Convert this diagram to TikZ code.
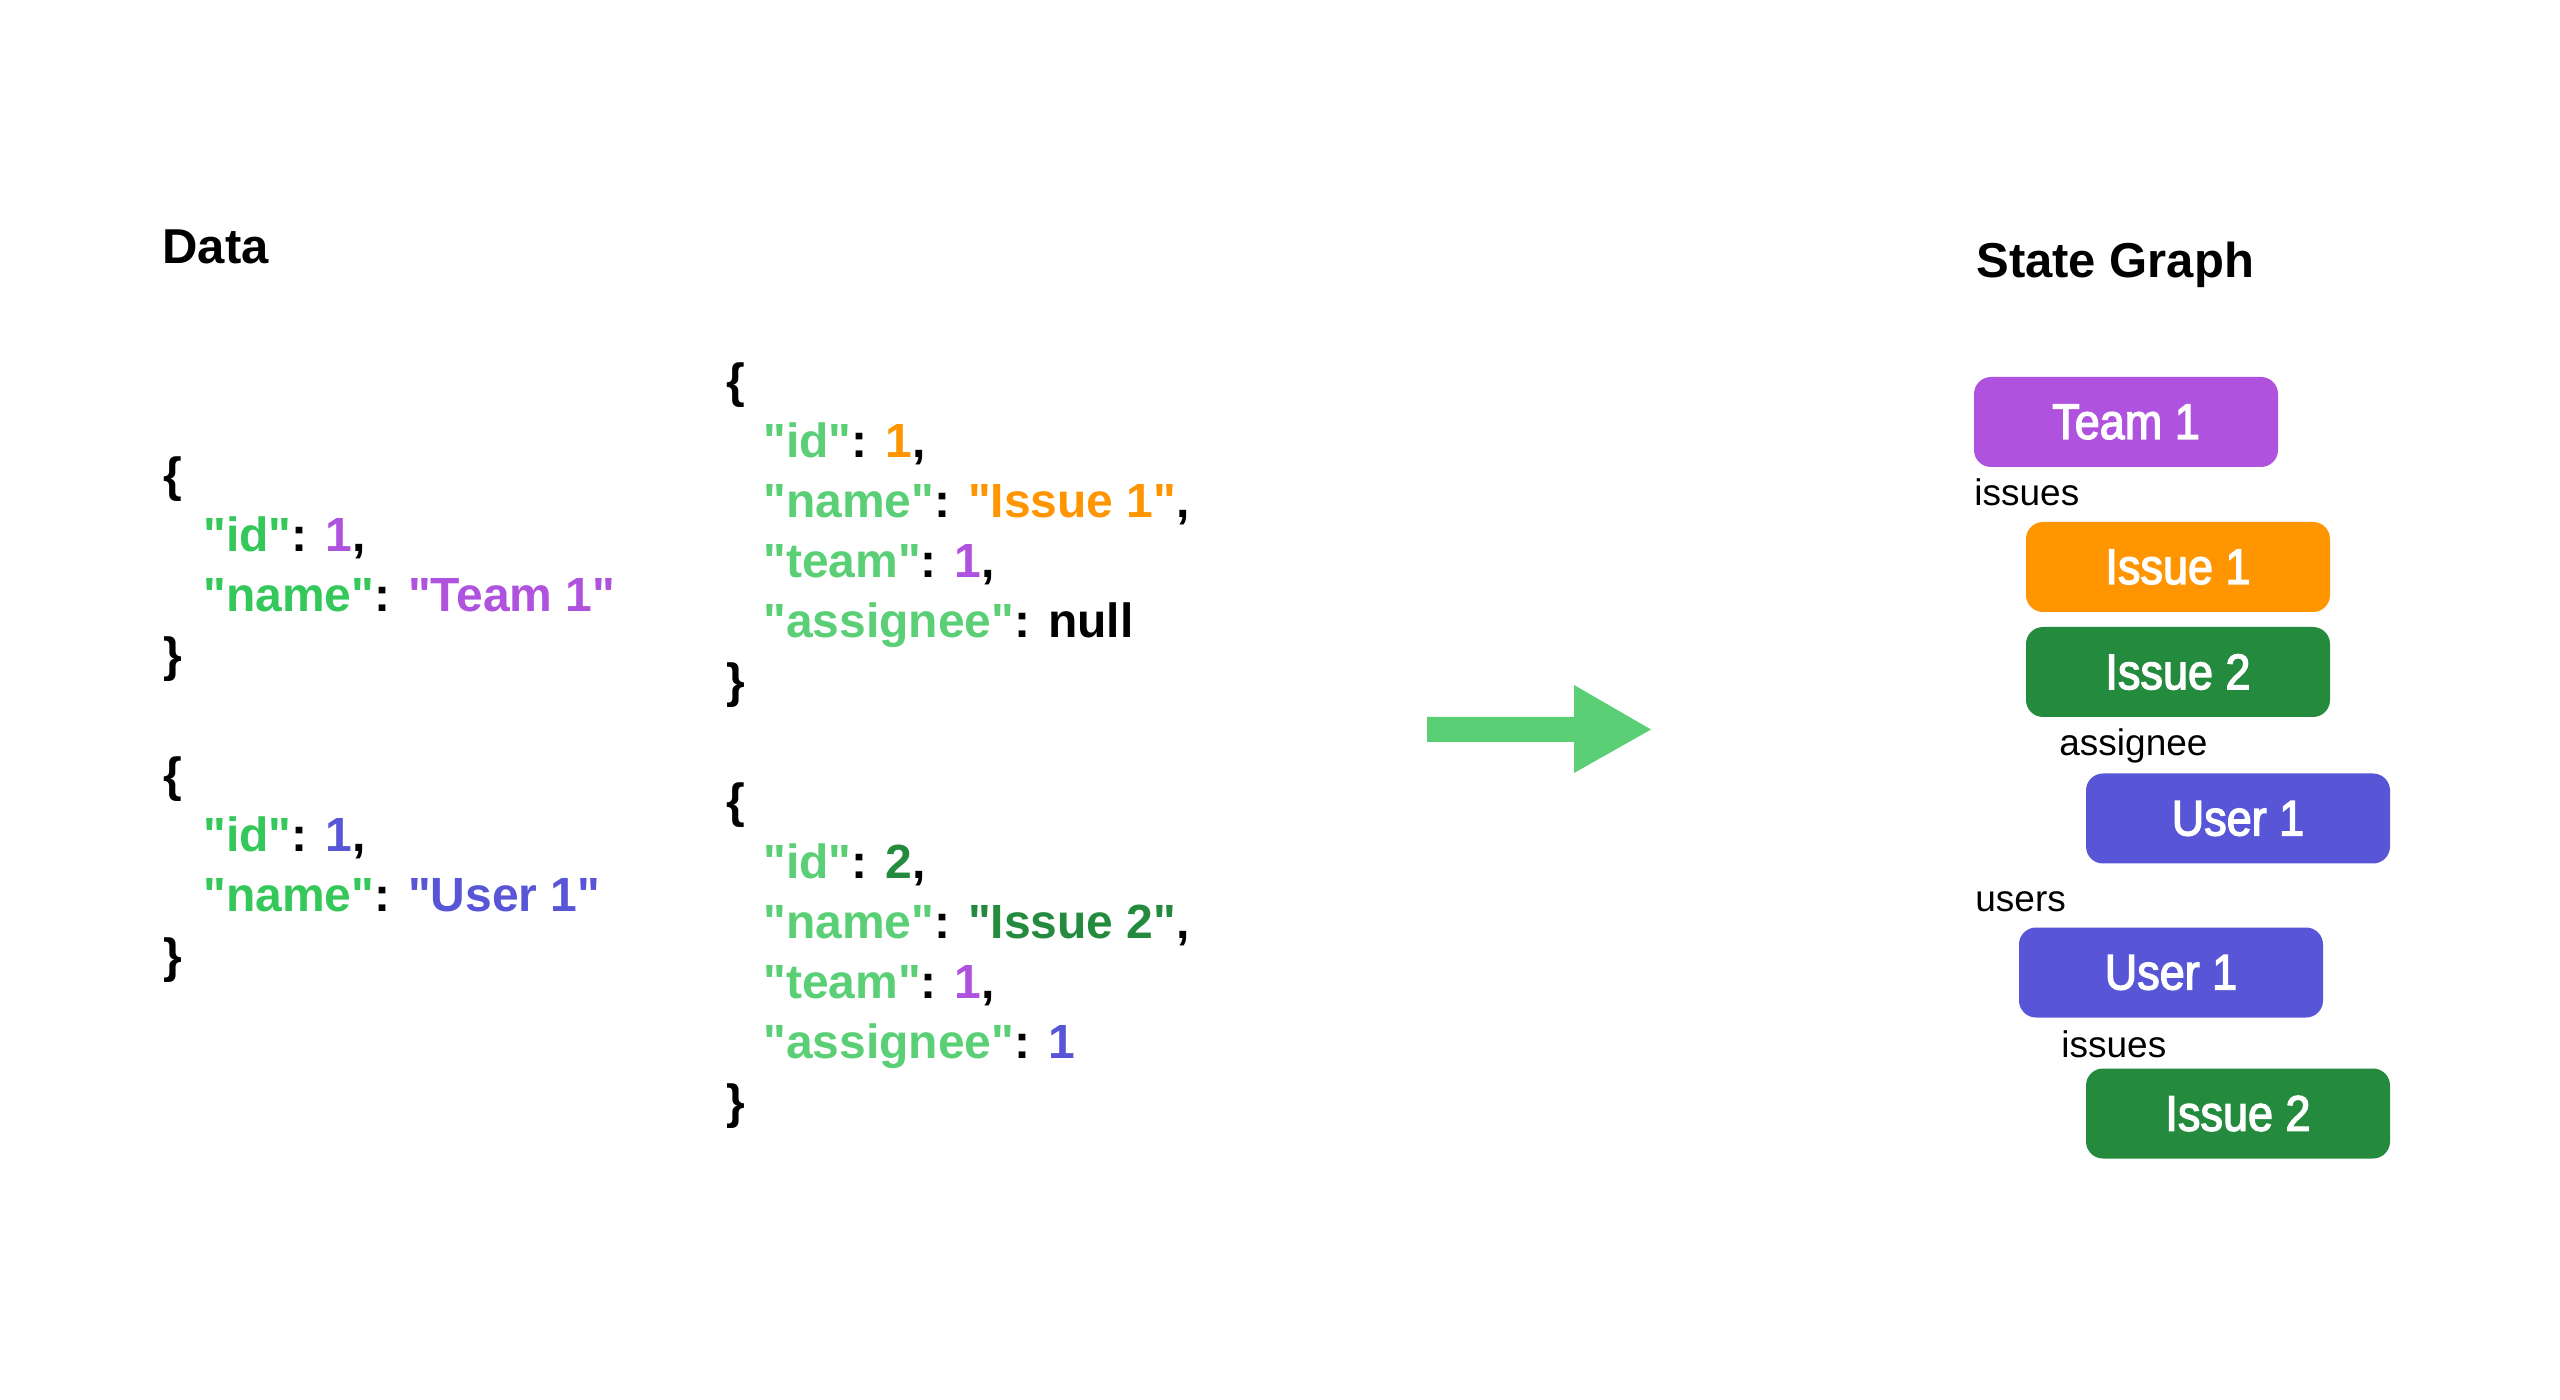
\documentclass[tikz,border=0pt]{standalone}
\usepackage{fontspec}
\setmainfont{Liberation Sans}[Ligatures=TeXOff]
\newfontface\boxfont[FakeStretch=0.9,FakeBold=2.6]{Liberation Sans}
\definecolor{keyL}{HTML}{34C759}
\definecolor{keyM}{HTML}{5ACF75}
\definecolor{purp}{HTML}{AF52DE}
\definecolor{orng}{HTML}{FF9500}
\definecolor{indg}{HTML}{5856D6}
\definecolor{dgrn}{HTML}{248A3D}
\definecolor{arrg}{HTML}{5ACF75}
\tikzset{
  jsontext/.style={anchor=base west, inner sep=0pt, font=\fontsize{24}{28}\selectfont\bfseries},
  titletext/.style={anchor=base west, inner sep=0pt, font=\fontsize{24.5}{28}\selectfont\bfseries},
  lbl/.style={anchor=base west, inner sep=0pt, font=\fontsize{18.5}{22}\selectfont},
  entity/.style={rectangle, rounded corners=8.5pt, minimum width=152pt, minimum height=45pt,
    inner sep=0pt, text=white, font=\boxfont\fontsize{25}{30}\selectfont},
}
\begin{document}
\begin{tikzpicture}[x=0.5pt,y=-0.5pt]
\useasboundingbox (0,0) rectangle (2560,1400);
\fill[white] (0,0) rectangle (2560,1400);

% titles
\node[titletext] (tdata) at (162,264) {Data};
\node[titletext] (tstate) at (1976,278) {State Graph};

% left block 1 (team)
\node[jsontext] (a1) at (163,492) {\{};
\node[jsontext] (a2) at (203,552) {\textcolor{keyL}{"id"}: \textcolor{purp}{1},};
\node[jsontext] (a3) at (203,612) {\textcolor{keyL}{"name"}: \textcolor{purp}{"Team 1"}};
\node[jsontext] (a4) at (163,672) {\}};

% left block 2 (user)
\node[jsontext] (b1) at (163,792) {\{};
\node[jsontext] (b2) at (203,852) {\textcolor{keyL}{"id"}: \textcolor{indg}{1},};
\node[jsontext] (b3) at (203,912) {\textcolor{keyL}{"name"}: \textcolor{indg}{"User 1"}};
\node[jsontext] (b4) at (163,972) {\}};

% middle block 1 (issue 1)
\node[jsontext] (c1) at (726,398) {\{};
\node[jsontext] (c2) at (763,458) {\textcolor{keyM}{"id"}: \textcolor{orng}{1},};
\node[jsontext] (c3) at (763,518) {\textcolor{keyM}{"name"}: \textcolor{orng}{"Issue 1"},};
\node[jsontext] (c4) at (763,578) {\textcolor{keyM}{"team"}: \textcolor{purp}{1},};
\node[jsontext] (c5) at (763,638) {\textcolor{keyM}{"assignee"}: null};
\node[jsontext] (c6) at (726,698) {\}};

% middle block 2 (issue 2)
\node[jsontext] (d1) at (726,818) {\{};
\node[jsontext] (d2) at (763,878) {\textcolor{keyM}{"id"}: \textcolor{dgrn}{2},};
\node[jsontext] (d3) at (763,938) {\textcolor{keyM}{"name"}: \textcolor{dgrn}{"Issue 2"},};
\node[jsontext] (d4) at (763,998) {\textcolor{keyM}{"team"}: \textcolor{purp}{1},};
\node[jsontext] (d5) at (763,1058) {\textcolor{keyM}{"assignee"}: \textcolor{indg}{1}};
\node[jsontext] (d6) at (726,1118) {\}};

% big arrow
\fill[arrg] (1427,717) -- (1574,717) -- (1574,685) -- (1651,729.5) -- (1574,773)
  -- (1574,742) -- (1427,742) -- cycle;

% state graph
\node[entity, fill=purp] (team) at (2126,422) {Team 1};
\node[lbl] (l1) at (1974,506) {issues};
\node[entity, fill=orng] (iss1) at (2178,567) {Issue 1};
\node[entity, fill=dgrn] (iss2) at (2178,672) {Issue 2};
\node[lbl] (l2) at (2059,756) {assignee};
\node[entity, fill=indg] (usr1) at (2238,818.5) {User 1};
\node[lbl] (l3) at (1975,912) {users};
\node[entity, fill=indg] (usr2) at (2171,972.5) {User 1};
\node[lbl] (l4) at (2061,1057) {issues};
\node[entity, fill=dgrn] (iss3) at (2238,1113.5) {Issue 2};
\end{tikzpicture}
\end{document}
